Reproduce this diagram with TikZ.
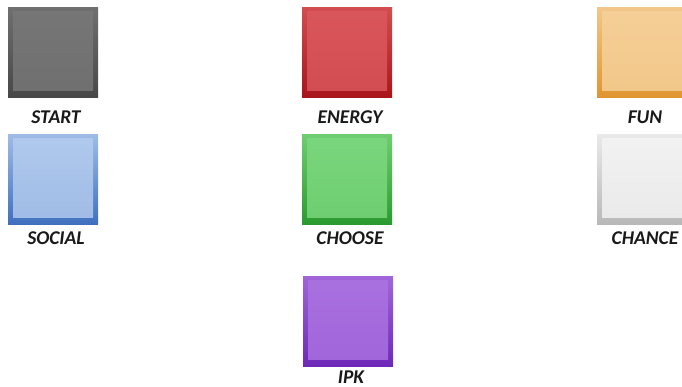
\documentclass[tikz,border=0pt]{standalone}
\usepackage{fontspec}
\setmainfont{Carlito}
\usepackage{xcolor}
\usetikzlibrary{positioning}

\definecolor{startdark}{HTML}{474747}
\definecolor{startlite}{HTML}{767676}
\definecolor{energydark}{HTML}{A8151B}
\definecolor{energylite}{HTML}{D9565B}
\definecolor{fundark}{HTML}{E0952F}
\definecolor{funlite}{HTML}{F5CF98}
\definecolor{socialdark}{HTML}{3F6FBE}
\definecolor{sociallite}{HTML}{B0C9ED}
\definecolor{choosedark}{HTML}{2A9A30}
\definecolor{chooselite}{HTML}{7AD67C}
\definecolor{chancedark}{HTML}{B8B8B8}
\definecolor{chancelite}{HTML}{F2F2F2}
\definecolor{ipkdark}{HTML}{6E28B8}
\definecolor{ipklite}{HTML}{A970E0}

\begin{document}
\begin{tikzpicture}[
    x=1pt, y=1pt,
    tile/.style 2 args={minimum size=90pt, inner sep=0pt, draw=none,
        top color=#2!85!#1, bottom color=#1,
        path picture={
            \shade[top color=#2, bottom color=#2!85!#1]
                ([shift={(5pt,7pt)}]path picture bounding box.south west)
                rectangle ([shift={(-5pt,-4pt)}]path picture bounding box.north east);
        }},
    lbl/.style={font=\fontsize{19.5}{22}\selectfont\bfseries\itshape, text=black!90, inner sep=1pt, xshift=3pt},
]
    \clip (0,0) rectangle (682,387);

    % first row
    \node[tile={startdark}{startlite}] (start) at (53,334) {};
    \node[tile={energydark}{energylite}] (energy) at (347,334) {};
    \node[tile={fundark}{funlite}] (fun) at (642,334) {};

    % second row
    \node[tile={socialdark}{sociallite}] (social) at (53,207.5) {};
    \node[tile={choosedark}{chooselite}] (choose) at (347,207.5) {};
    \node[tile={chancedark}{chancelite}] (chance) at (642,207.5) {};

    % third row
    \node[tile={ipkdark}{ipklite}] (ipk) at (348,65.5) {};

    \node[lbl, below=11pt of start] (startlbl) {START};
    \node[lbl, below=11pt of energy] (energylbl) {ENERGY};
    \node[lbl, below=11pt of fun] (funlbl) {FUN};
    \node[lbl, below=6pt of social] (sociallbl) {SOCIAL};
    \node[lbl, below=6pt of choose] (chooselbl) {CHOOSE};
    \node[lbl, below=6pt of chance] (chancelbl) {CHANCE};
    \node[lbl, below=3pt of ipk] (ipklbl) {IPK};
\end{tikzpicture}
\end{document}
